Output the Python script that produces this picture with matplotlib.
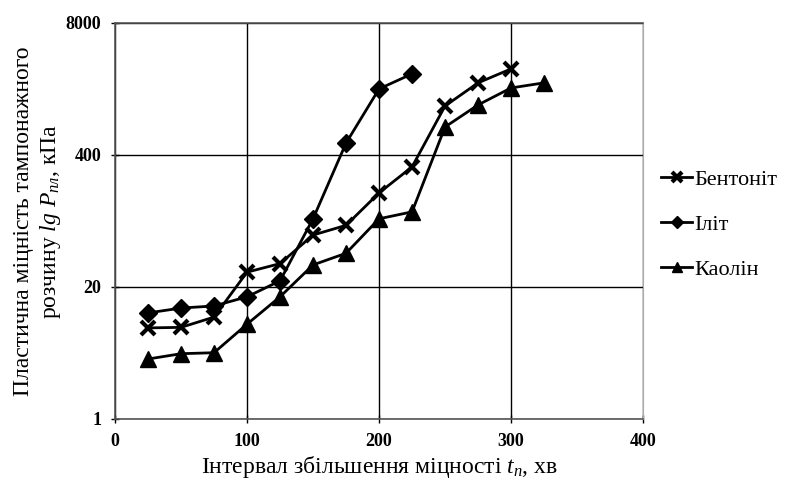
import matplotlib.pyplot as plt
from matplotlib.ticker import FixedLocator, FixedFormatter, NullLocator

plt.rcParams['font.family'] = ['Liberation Serif', 'DejaVu Serif']
plt.rcParams['mathtext.fontset'] = 'custom'
plt.rcParams['mathtext.rm'] = 'Liberation Serif'
plt.rcParams['mathtext.it'] = 'Liberation Serif:italic'

# data
bent_t = [25, 50, 75, 100, 125, 150, 175, 200, 225, 250, 275, 300]
bent_p = [7.9, 8.0, 10.1, 28, 34, 65, 81, 169, 305, 1215, 2055, 2820]

ilit_t = [25, 50, 75, 100, 125, 150, 175, 200, 225]
ilit_p = [11.1, 12.4, 13, 16, 23, 94, 524, 1790, 2520]

kaol_t = [25, 50, 75, 100, 125, 150, 175, 200, 225, 250, 275, 300, 325]
kaol_p = [3.9, 4.4, 4.5, 8.6, 16, 33, 43, 94, 110, 755, 1245, 1830, 2055]

y_ticks = [1, 20, 400, 8000]
x_ticks = [0, 100, 200, 300, 400]

fig = plt.figure(figsize=(7.9, 4.88), dpi=100)
ax = fig.add_axes([0.1456, 0.1414, 0.6684, 0.8116])

ax.plot(bent_t, bent_p, color='black', lw=2, marker='x', ms=10, mew=3, label='Бентоніт')
ax.plot(ilit_t, ilit_p, color='black', lw=2, marker='D', ms=9, label='Іліт')
ax.plot(kaol_t, kaol_p, color='black', lw=2, marker='^', ms=11, label='Каолін')

ax.set_yscale('log', base=20)
ax.set_ylim(1, 8000)
ax.set_xlim(0, 400)
ax.yaxis.set_major_locator(FixedLocator(y_ticks))
ax.yaxis.set_major_formatter(FixedFormatter([str(v) for v in y_ticks]))
ax.yaxis.set_minor_locator(NullLocator())
ax.set_xticks(x_ticks)
ax.tick_params(direction='inout', length=6, width=1, labelsize=13, pad=7)
for lab in ax.get_xticklabels() + ax.get_yticklabels():
    lab.set_fontweight('bold')

ax.grid(True, color='black', lw=1)
for s in ['left', 'bottom', 'top']:
    ax.spines[s].set_color('#555555')
    ax.spines[s].set_linewidth(1.2)
ax.spines['right'].set_color('#aaaaaa')

ax.set_xlabel('Інтервал збільшення міцності $t_n$, хв', fontsize=17, labelpad=3)
ax.set_ylabel('Пластична міцність тампонажного\nрозчину $lg$ $P_{пл}$, кПа',
              fontsize=17, labelpad=2, linespacing=1.2)

fig.legend(loc='center left', bbox_to_anchor=(0.82, 0.54), frameon=False, fontsize=16,
           handlelength=1.4, handletextpad=0.1, labelspacing=1.1, markerscale=0.7,
           borderaxespad=0.2)

fig.savefig('out.png', dpi=100)
